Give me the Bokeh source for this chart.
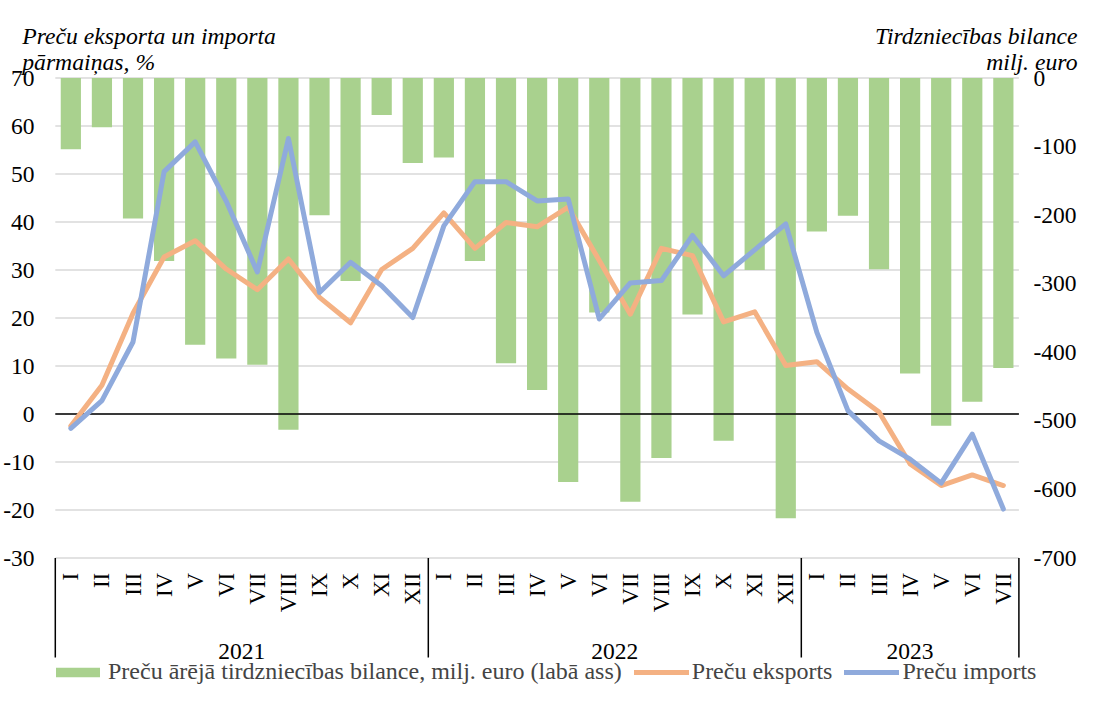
import numpy as np
from bokeh.plotting import figure
from bokeh.models import Range1d, Legend, LegendItem
from bokeh.embed import file_html
from bokeh.resources import INLINE
from bokeh.core.properties import value

# ---------------- data ----------------
years = ["2021", "2022", "2023"]
months_per_year = [12, 12, 7]
month_labels = ["I", "II", "III", "IV", "V", "VI", "VII", "VIII", "IX", "X", "XI", "XII",
                "I", "II", "III", "IV", "V", "VI", "VII", "VIII", "IX", "X", "XI", "XII",
                "I", "II", "III", "IV", "V", "VI", "VII"]
balance = [-104, -72, -205, -267, -389, -409, -418, -513, -200, -296, -54, -124,
           -116, -267, -416, -455, -589, -342, -618, -554, -345, -529, -280, -642,
           -224, -201, -279, -431, -507, -472, -423]
exports = [-2.5, 6.0, 21.0, 32.7, 36.1, 30.2, 25.9, 32.3, 24.3, 19.0, 30.1, 34.5,
           41.9, 34.5, 39.9, 39.0, 43.1, 32.0, 20.8, 34.5, 33.0, 19.2, 21.3, 10.1,
           10.9, 5.2, 0.4, -10.4, -14.9, -12.7, -14.9]
imports = [-3.0, 2.8, 15.0, 50.5, 56.7, 44.3, 29.6, 57.4, 25.3, 31.6, 26.7, 20.1,
           39.2, 48.4, 48.4, 44.4, 44.8, 19.8, 27.3, 27.8, 37.2, 28.8, 34.2, 39.6,
           17.0, 0.7, -5.6, -9.4, -14.4, -4.2, -19.8]
left_ticks = list(range(-30, 71, 10))
right_ticks = list(range(-700, 1, 100))
left_tick_labels = [str(t) for t in left_ticks]
right_tick_labels = [str(t) for t in right_ticks]

label_bar = "Preču ārējā tirdzniecības bilance, milj. euro (labā ass)"
label_exp = "Preču eksports"
label_imp = "Preču imports"
title_left = ["Preču eksporta un importa", "pārmaiņas, %"]
title_right = ["Tirdzniecības bilance", "milj. euro"]

# ---------------- layout constants (pixels) ----------------
FONT = "Liberation Serif"
GREEN, ORANGE, BLUE = "#A9D18E", "#F4B183", "#8FAADC"
GRID = "#d9d9d9"
W, H = 1078, 686
OFF = 1                      # canvas origin in picture pixels
X0, X1 = 55.8, 1019.4        # plot area left / right (picture px)
Y_TOP, Y_BOT = 78.5, 558.5   # value 70 / value -30 (picture px)
LMAX, LMIN = 70, -30
RMAX, RMIN = 0, -700

n = len(month_labels)
cw = (X1 - X0) / n
pxu = (Y_BOT - Y_TOP) / (LMAX - LMIN)
pxr = (Y_BOT - Y_TOP) / (RMAX - RMIN)

x_range = Range1d((OFF - X0) / cw, (OFF + W - X0) / cw)
y_range = Range1d(LMAX - (OFF + H - Y_TOP) / pxu, LMAX + (Y_TOP - OFF) / pxu)

p = figure(width=W, height=H, output_backend="svg", toolbar_location=None, title=None,
           x_range=x_range, y_range=y_range,
           x_axis_location=None, y_axis_location=None,
           min_border=0, min_border_left=0, min_border_right=0,
           min_border_top=0, min_border_bottom=0)
p.outline_line_color = None
p.grid.visible = False
p.extra_y_ranges = {
    "bal": Range1d(RMAX - (OFF + H - Y_TOP) / pxr, RMAX + (Y_TOP - OFF) / pxr),
    "px": Range1d(OFF + H, OFF),
}
p.extra_x_ranges = {"px": Range1d(OFF, OFF + W)}

x = np.arange(n) + 0.5
bounds = np.concatenate([[0], np.cumsum(months_per_year)])

# gridlines (left-axis ticks) across the plot area
p.segment(x0=0, x1=n, y0=left_ticks, y1=left_ticks, line_color=GRID, line_width=1.5)

# bars on right axis
bars = p.vbar(x=x, top=0, bottom=balance, width=0.65, y_range_name="bal",
              fill_color=GREEN, line_color=None)

# zero line
p.segment(x0=0, x1=n, y0=0, y1=0, line_color="black", line_width=1.5)

l_exp = p.line(x, exports, line_color=ORANGE, line_width=5, line_join="round", line_cap="round")
l_imp = p.line(x, imports, line_color=BLUE, line_width=5, line_join="round", line_cap="round")

# left axis tick labels (positioned by value on the left scale)
p.text(x=35, y=left_ticks, text=left_tick_labels, x_range_name="px",
       text_align="right", text_baseline="middle", text_font=value(FONT),
       text_font_size="23.5px", text_color="black")
# right axis tick labels (positioned by value on the right scale)
p.text(x=1034, y=right_ticks, text=right_tick_labels, x_range_name="px",
       y_range_name="bal", text_align="left", text_baseline="middle",
       text_font=value(FONT), text_font_size="23.5px", text_color="black")

# category axis: months, years, separators
p.text(x=x, y=-33.08, text=month_labels, angle=np.pi / 2, text_align="right",
       text_baseline="middle", text_font=value(FONT), text_font_size="23px",
       text_color="black")
year_x = (bounds[:-1] + bounds[1:]) / 2
p.text(x=year_x, y=-49.4, text=years, text_align="center", text_baseline="alphabetic",
       text_font=value(FONT), text_font_size="23.5px", text_color="black")
p.segment(x0=bounds, y0=LMIN, x1=bounds, y1=-50.73, line_color="black", line_width=1.5)

# axis titles
p.text(x=[22.7, 22.7], y=[36.5, 62.7], text=title_left, x_range_name="px",
       y_range_name="px", text_align="left", text_baseline="alphabetic",
       text_font=value(FONT), text_font_style="italic", text_font_size="23.7px",
       text_color="black")
p.text(x=[1078, 1078], y=[36.5, 62.7], text=title_right, x_range_name="px",
       y_range_name="px", text_align="right", text_baseline="alphabetic",
       text_font=value(FONT), text_font_style="italic", text_font_size="23.7px",
       text_color="black")

legend = Legend(items=[LegendItem(label=label_bar, renderers=[bars]),
                       LegendItem(label=label_exp, renderers=[l_exp]),
                       LegendItem(label=label_imp, renderers=[l_imp])],
                location=(50, 1), orientation="horizontal",
                label_text_font=FONT, label_text_font_size="24px",
                glyph_width=55, glyph_height=12, label_standoff=3, spacing=12,
                padding=0, margin=0, border_line_color=None, background_fill_alpha=0)
p.add_layout(legend)

open("out.html", "w").write(file_html(p, INLINE))
